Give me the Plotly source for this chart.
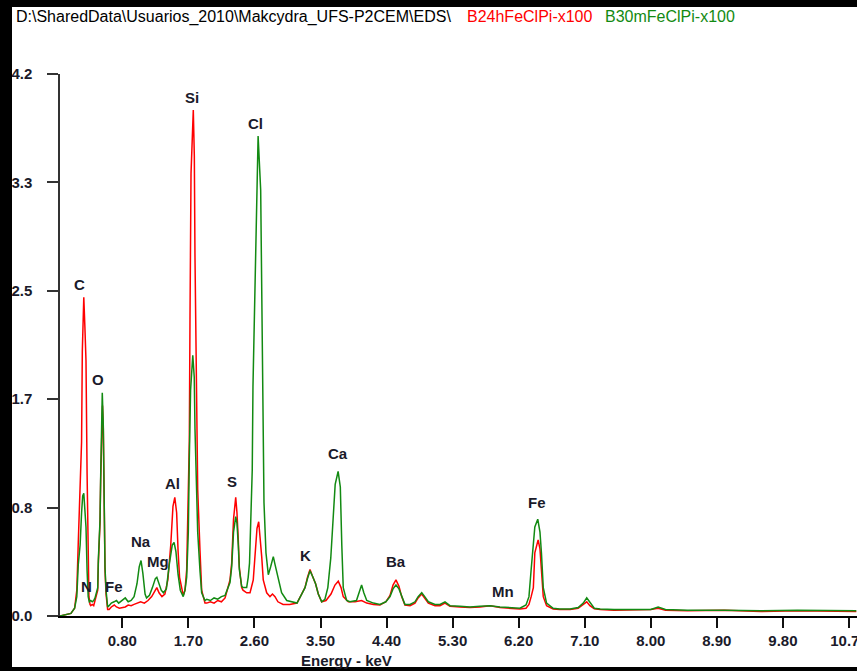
import plotly.graph_objects as go

# ---------------- data ----------------
red_kev = [-0.05, 0.05, 0.10, 0.15, 0.18, 0.20, 0.225, 0.245, 0.255, 0.275, 0.29, 0.305, 0.32, 0.335, 0.345,
           0.36, 0.37, 0.39, 0.41, 0.428, 0.465, 0.473, 0.486, 0.496, 0.505, 0.519, 0.53, 0.541, 0.546, 0.554,
           0.564, 0.578, 0.60, 0.62, 0.65, 0.69, 0.72, 0.76, 0.80, 0.84, 0.88, 0.92, 0.96, 1.00, 1.05, 1.10,
           1.15, 1.20, 1.25, 1.27, 1.30, 1.34, 1.38, 1.42, 1.46, 1.49, 1.515, 1.54, 1.56, 1.58, 1.63, 1.654,
           1.677, 1.699, 1.713, 1.722, 1.736, 1.767, 1.781, 1.790, 1.804, 1.827, 1.858, 1.881, 1.926, 1.95,
           2.00, 2.05, 2.10, 2.15, 2.20, 2.222, 2.267, 2.29, 2.315, 2.345, 2.362, 2.38, 2.394, 2.426, 2.444,
           2.494, 2.54, 2.584, 2.608, 2.635, 2.658, 2.676, 2.699, 2.72, 2.767, 2.812, 2.846, 2.88, 2.92, 2.99,
           3.08, 3.18, 3.244, 3.289, 3.323, 3.357, 3.39, 3.433, 3.47, 3.516, 3.575, 3.643, 3.697, 3.742, 3.78,
           3.81, 3.879, 3.97, 4.06, 4.13, 4.22, 4.31, 4.39, 4.447, 4.488, 4.528, 4.569, 4.606, 4.65, 4.72,
           4.787, 4.83, 4.879, 4.92, 4.969, 5.06, 5.128, 5.196, 5.264, 5.40, 5.537, 5.673, 5.81, 5.945, 6.08,
           6.217, 6.30, 6.34, 6.37, 6.40, 6.42, 6.45, 6.465, 6.49, 6.51, 6.535, 6.58, 6.67, 6.76, 6.90, 7.01,
           7.08, 7.127, 7.17, 7.23, 7.31, 7.50, 8.00, 8.10, 8.20, 8.50, 9.00, 9.50, 10.00, 10.50, 10.80]
red_counts = [0.00, 0.01, 0.02, 0.06, 0.20, 0.57, 0.95, 1.35, 2.05, 2.47, 2.24, 1.98, 1.10, 0.45, 0.15,
              0.09, 0.08, 0.09, 0.08, 0.12, 0.20, 0.40, 0.56, 0.72, 1.05, 1.42, 1.63, 1.45, 1.15, 0.66,
              0.36, 0.17, 0.05, 0.05, 0.07, 0.085, 0.07, 0.06, 0.065, 0.07, 0.085, 0.08, 0.09, 0.10, 0.11, 0.10,
              0.12, 0.15, 0.20, 0.22, 0.18, 0.15, 0.17, 0.28, 0.55, 0.85, 0.92, 0.80, 0.50, 0.30, 0.16, 0.20,
              0.36, 0.98, 1.36, 2.30, 3.43, 3.92, 3.56, 2.78, 1.88, 0.98, 0.51, 0.20, 0.10, 0.10,
              0.11, 0.10, 0.12, 0.11, 0.14, 0.18, 0.28, 0.41, 0.75, 0.92, 0.80, 0.59, 0.38, 0.22, 0.20,
              0.18, 0.18, 0.28, 0.51, 0.68, 0.73, 0.62, 0.46, 0.28, 0.18, 0.15, 0.17, 0.15, 0.11, 0.09,
              0.09, 0.10, 0.17, 0.22, 0.30, 0.36, 0.31, 0.25, 0.17, 0.11, 0.12, 0.17, 0.24, 0.27, 0.22,
              0.15, 0.11, 0.11, 0.12, 0.10, 0.09, 0.085, 0.11, 0.16, 0.24, 0.28, 0.23, 0.15, 0.085, 0.08,
              0.10, 0.14, 0.17, 0.14, 0.10, 0.08, 0.08, 0.10, 0.075, 0.07, 0.065, 0.07, 0.08, 0.065, 0.06,
              0.055, 0.06, 0.09, 0.15, 0.22, 0.49, 0.56, 0.59, 0.52, 0.36, 0.15, 0.08, 0.055, 0.05, 0.05, 0.06,
              0.09, 0.11, 0.08, 0.055, 0.05, 0.045, 0.05, 0.06, 0.045, 0.04, 0.045, 0.035, 0.04, 0.035, 0.035]

green_kev = [-0.05, 0.05, 0.10, 0.15, 0.18, 0.20, 0.225, 0.245, 0.26, 0.275, 0.29, 0.305, 0.32, 0.335, 0.35,
             0.37, 0.39, 0.41, 0.428, 0.465, 0.473, 0.486, 0.496, 0.505, 0.519, 0.527, 0.541, 0.546, 0.554,
             0.564, 0.578, 0.60, 0.62, 0.65, 0.687, 0.72, 0.75, 0.80, 0.84, 0.88, 0.92, 0.96, 1.00, 1.03,
             1.055, 1.08, 1.11, 1.13, 1.17, 1.21, 1.25, 1.27, 1.30, 1.33, 1.36, 1.40, 1.44, 1.48, 1.505, 1.53,
             1.56, 1.59, 1.63, 1.654, 1.677, 1.699, 1.713, 1.73, 1.76, 1.78, 1.79, 1.804, 1.827, 1.858, 1.881,
             1.926, 1.95, 2.00, 2.05, 2.10, 2.15, 2.20, 2.222, 2.267, 2.29, 2.315, 2.345, 2.362, 2.38, 2.394,
             2.426, 2.444, 2.494, 2.515, 2.533, 2.55, 2.57, 2.58, 2.617, 2.65, 2.685, 2.70, 2.71, 2.73, 2.757,
             2.789, 2.82, 2.857, 2.88, 2.925, 2.97, 3.04, 3.10, 3.18, 3.244, 3.289, 3.323, 3.357, 3.39, 3.433,
             3.47, 3.516, 3.56, 3.60, 3.64, 3.67, 3.70, 3.74, 3.77, 3.79, 3.81, 3.856, 3.90, 3.99, 4.03, 4.06,
             4.09, 4.13, 4.22, 4.31, 4.39, 4.447, 4.488, 4.528, 4.569, 4.606, 4.65, 4.72, 4.787, 4.83, 4.879,
             4.92, 4.969, 5.06, 5.128, 5.196, 5.264, 5.40, 5.537, 5.673, 5.81, 5.945, 6.08, 6.217, 6.30, 6.34,
             6.37, 6.40, 6.42, 6.46, 6.49, 6.51, 6.535, 6.58, 6.67, 6.76, 6.90, 7.01, 7.08, 7.127, 7.17, 7.23,
             7.31, 7.50, 8.00, 8.10, 8.20, 8.50, 9.00, 9.50, 10.00, 10.50, 10.80]
green_counts = [0.00, 0.01, 0.02, 0.06, 0.15, 0.40, 0.55, 0.80, 0.93, 0.95, 0.85, 0.69, 0.35, 0.15, 0.11,
                0.12, 0.11, 0.12, 0.14, 0.22, 0.43, 0.59, 0.74, 1.08, 1.47, 1.73, 1.47, 1.19, 0.69,
                0.38, 0.20, 0.07, 0.08, 0.10, 0.11, 0.12, 0.10, 0.12, 0.14, 0.11, 0.12, 0.15, 0.25, 0.38,
                0.43, 0.33, 0.17, 0.14, 0.16, 0.22, 0.29, 0.30, 0.25, 0.20, 0.18, 0.21, 0.40, 0.55, 0.57, 0.50,
                0.32, 0.20, 0.15, 0.20, 0.30, 0.65, 1.23, 1.75, 2.02, 1.85, 1.45, 1.10, 0.65, 0.35, 0.18,
                0.12, 0.13, 0.12, 0.14, 0.13, 0.15, 0.16, 0.19, 0.26, 0.38, 0.65, 0.77, 0.72, 0.55, 0.36,
                0.23, 0.22, 0.22, 0.30, 0.41, 0.77, 1.13, 1.78, 2.81, 3.72, 3.30, 2.47, 1.50, 0.88, 0.49,
                0.32, 0.38, 0.46, 0.40, 0.28, 0.18, 0.12, 0.11, 0.10, 0.17, 0.22, 0.29, 0.35, 0.31, 0.25,
                0.17, 0.11, 0.13, 0.22, 0.45, 0.78, 1.02, 1.12, 1.00, 0.55, 0.22, 0.12, 0.11, 0.12, 0.19, 0.24,
                0.18, 0.12, 0.10, 0.09, 0.11, 0.15, 0.21, 0.24, 0.21, 0.15, 0.09, 0.09, 0.11, 0.15, 0.18,
                0.15, 0.11, 0.09, 0.09, 0.11, 0.08, 0.075, 0.07, 0.075, 0.08, 0.07, 0.065, 0.06, 0.085, 0.15,
                0.36, 0.60, 0.69, 0.75, 0.65, 0.49, 0.22, 0.10, 0.06, 0.055, 0.055, 0.065, 0.10, 0.14, 0.11, 0.06,
                0.055, 0.05, 0.05, 0.07, 0.05, 0.045, 0.045, 0.04, 0.045, 0.04, 0.04]

element_names = ["C", "N", "O", "Fe", "Na", "Mg", "Al", "Si", "S", "Cl", "K", "Ca", "Ba", "Mn", "Fe"]
element_kev = [0.21, 0.314, 0.473, 0.687, 1.05, 1.29, 1.48, 1.749, 2.29, 2.62, 3.30, 3.74, 4.53, 5.99, 6.45]
element_counts = [2.57, 0.23, 1.83, 0.23, 0.576, 0.419, 1.023, 4.02, 1.04, 3.82, 0.47, 1.26, 0.42, 0.19, 0.88]

x_tick_vals = [0.80, 1.70, 2.60, 3.50, 4.40, 5.30, 6.20, 7.10, 8.00, 8.90, 9.80, 10.70]
x_tick_text = ["0.80", "1.70", "2.60", "3.50", "4.40", "5.30", "6.20", "7.10", "8.00", "8.90", "9.80", "10.70"]
y_tick_vals = [0.0, 0.84, 1.68, 2.52, 3.36, 4.2]
y_tick_text = ["0.0", "0.8", "1.7", "2.5", "3.3", "4.2"]

header_path = "D:\\SharedData\\Usuarios_2010\\Makcydra_UFS-P2CEM\\EDS\\"
series_names = ["B24hFeClPi-x100", "B30mFeClPi-x100"]

# ---------------- figure ----------------
W, H = 857, 671
L, R, T, B = 60, 0, 74, 55
PW, PH = W - L - R, H - T - B


def px_x(px):
    return (px - L) / PW


def px_y(py):
    return (H - B - py) / PH


RED = "#ff0000"
GREEN = "#128a12"

fig = go.Figure()
fig.add_trace(go.Scatter(x=red_kev, y=red_counts, mode="lines", name=series_names[0],
                         line=dict(color=RED, width=1.5)))
fig.add_trace(go.Scatter(x=green_kev, y=green_counts, mode="lines", name=series_names[1],
                         line=dict(color=GREEN, width=1.5)))

lab_font = dict(family="Liberation Sans, Arial, sans-serif", size=15, color="#1a1a2a", weight="bold")
for n, xv, yv in zip(element_names, element_kev, element_counts):
    fig.add_annotation(x=xv, y=yv, xref="x", yref="y", text=n, showarrow=False,
                       xanchor="center", yanchor="middle", font=lab_font)

head_font = "Liberation Sans, Arial, sans-serif"
fig.add_annotation(x=px_x(14), y=px_y(17), xref="paper", yref="paper", text=header_path,
                   showarrow=False, xanchor="left", yanchor="middle",
                   font=dict(family=head_font, size=16, color="#000000"))
fig.add_annotation(x=px_x(465), y=px_y(17), xref="paper", yref="paper", text=series_names[0],
                   showarrow=False, xanchor="left", yanchor="middle",
                   font=dict(family=head_font, size=16, color=RED))
fig.add_annotation(x=px_x(603), y=px_y(17), xref="paper", yref="paper", text=series_names[1],
                   showarrow=False, xanchor="left", yanchor="middle",
                   font=dict(family=head_font, size=16, color=GREEN))

fig.add_annotation(x=px_x(346), y=px_y(660), xref="paper", yref="paper", text="Energy - keV",
                   showarrow=False, xanchor="center", yanchor="middle", font=lab_font)

# black frame bars of the screenshot
for x0, y0, x1, y1 in [(0, 0, 857, 7), (0, 0, 12, 671), (0, 667, 857, 671)]:
    fig.add_shape(type="rect", xref="paper", yref="paper",
                  x0=px_x(x0), x1=px_x(x1), y0=px_y(y1), y1=px_y(y0),
                  fillcolor="black", line=dict(width=0), layer="above")

tick_font = dict(family="Liberation Sans, Arial, sans-serif", size=15, color="#1a1a2a", weight="bold")
fig.update_layout(
    width=W, height=H, autosize=False,
    margin=dict(l=L, r=R, t=T, b=B, pad=0, autoexpand=False),
    paper_bgcolor="white", plot_bgcolor="white",
    showlegend=False,
    xaxis=dict(range=[(L - 63.6) / 73.4, (W - 63.6) / 73.4], tickmode="array",
               tickvals=x_tick_vals, ticktext=x_tick_text, ticks="outside", ticklen=10,
               tickwidth=2, tickcolor="#111", showline=True, linecolor="#000", linewidth=2,
               showgrid=False, zeroline=False, tickfont=tick_font, ticklabeloverflow="allow",
               automargin=False),
    yaxis=dict(range=[0, 4.2], tickmode="array", tickvals=y_tick_vals, ticktext=y_tick_text,
               ticks="outside", ticklen=11, tickwidth=1.5, tickcolor="#333", showline=True,
               linecolor="#333", linewidth=1.5, showgrid=False, zeroline=False,
               tickfont=tick_font, ticklabelstandoff=12, automargin=False),
)

fig.write_html("out.html")
